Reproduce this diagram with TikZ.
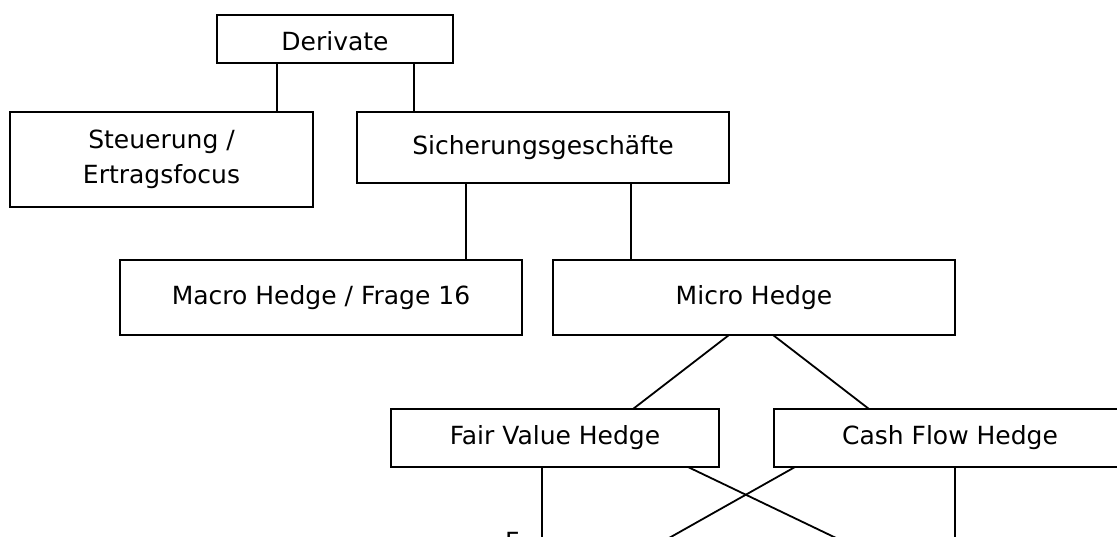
\documentclass[tikz,border=0pt]{standalone}
\usepackage{fontspec}
\setmainfont{DejaVu Sans}
\begin{document}
\begin{tikzpicture}[x=1pt, y=-1pt,
  box/.style={draw, line width=2pt, inner sep=0pt, outer sep=0pt, align=center, font=\fontsize{25}{35}\selectfont},
  link/.style={line width=1.8pt}]
\useasboundingbox (0,0) rectangle (1117,536);
\clip (0,0) rectangle (1117,536);
\node[box, minimum width=236pt, minimum height=48pt, text height=24pt](deriv) at (335,39){Derivate};
\node[box, minimum width=303pt, minimum height=95pt](steu) at (161.5,159.5){Steuerung /\\Ertragsfocus};
\node[box, minimum width=372pt, minimum height=71pt](sich) at (543,147.5){Sicherungsgeschäfte};
\node[box, minimum width=402pt, minimum height=75pt](macro) at (321,297.5){Macro Hedge / Frage 16};
\node[box, minimum width=402pt, minimum height=75pt](micro) at (754,297.5){Micro Hedge};
\node[box, minimum width=328pt, minimum height=58pt](fv) at (555,438){Fair Value Hedge};
\node[box, minimum width=352pt, minimum height=58pt](cf) at (950,438){Cash Flow Hedge};
\node[anchor=north west, inner sep=0pt, font=\fontsize{25}{35}\selectfont](nxt) at (505,532){F};
\coordinate (fvdown) at (542,560);
\coordinate (fvcross) at (882,560);
\coordinate (cfcross) at (630,560);
\coordinate (cfdown) at (955,560);
\draw[link] ([xshift=60pt]deriv.south west) -- ([xshift=60pt]deriv.south west |- steu.north);
\draw[link] ([xshift=197pt]deriv.south west) -- ([xshift=197pt]deriv.south west |- sich.north);
\draw[link] ([xshift=109pt]sich.south west) -- ([xshift=109pt]sich.south west |- macro.north);
\draw[link] ([xshift=274pt]sich.south west) -- ([xshift=274pt]sich.south west |- micro.north);
\draw[link] ([xshift=176pt]micro.south west) -- ([xshift=242pt]fv.north west);
\draw[link] ([xshift=220pt]micro.south west) -- ([xshift=95pt]cf.north west);
\draw[link] ([xshift=151pt]fv.south west) -- (fvdown);
\draw[link] ([xshift=297pt]fv.south west) -- (fvcross);
\draw[link] ([xshift=21pt]cf.south west) -- (cfcross);
\draw[link] ([xshift=181pt]cf.south west) -- (cfdown);
\end{tikzpicture}
\end{document}
